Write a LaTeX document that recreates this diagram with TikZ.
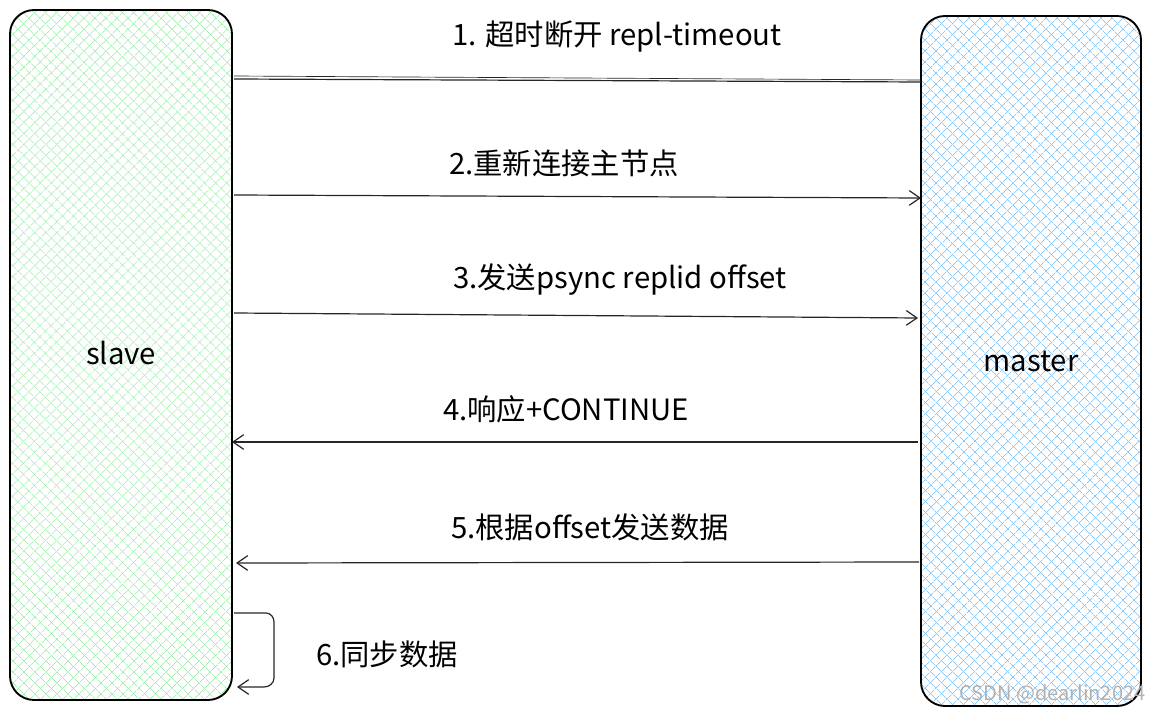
\documentclass[tikz,border=0pt]{standalone}
\usepackage{fontspec}
\setmainfont{Noto Sans CJK SC}
\usetikzlibrary{patterns.meta,arrows.meta}
\definecolor{hgreen}{RGB}{150,235,165}
\definecolor{hblue}{RGB}{140,200,250}
\tikzset{
  lbl/.style={font=\fontsize{22}{26}\selectfont, anchor=center},
  conn/.style={draw=black!85, line width=0.9pt},
  tip/.style={-{Straight Barb[length=8pt,width=11pt]}},
}
\begin{document}
\begin{tikzpicture}[x=0.75pt,y=-0.75pt]
\useasboundingbox (0,0) rectangle (1151,716);
% slave
\path[pattern={Lines[angle=45,distance=6.5pt,line width=0.7pt]},pattern color=hgreen] (10,10) [rounded corners=18] rectangle (232,700);
\path[pattern={Lines[angle=-45,distance=6.5pt,line width=0.7pt]},pattern color=hgreen] (10,10) [rounded corners=18] rectangle (232,700);
\draw[line width=1.4pt, rounded corners=18] (10,10) rectangle (232,700);
\node[lbl] (slave) at (121,353) {slave};
% master
\path[pattern={Lines[angle=45,distance=6.5pt,line width=0.7pt]},pattern color=hblue] (921,16) [rounded corners=18] rectangle (1141,706);
\path[pattern={Lines[angle=-45,distance=6.5pt,line width=0.7pt]},pattern color=hblue] (921,16) [rounded corners=18] rectangle (1141,706);
\draw[line width=1.4pt, rounded corners=18] (921,16) rectangle (1141,706);
\node[lbl] (master) at (1031,361) {master};
% arrows
\coordinate (a1s) at (234,79); \coordinate (a1e) at (921,82);
\draw[conn] (a1s) -- (a1e);
\draw[conn, line width=0.5pt] (234,76) -- (921,80);
\node[lbl] (t1) at (617,37) {1. 超时断开 repl-timeout};
\coordinate (a2s) at (234,195); \coordinate (a2e) at (921,198);
\draw[conn,tip] (a2s) -- (a2e);
\node[lbl] (t2) at (564,163) {2.重新连接主节点};
\coordinate (a3s) at (234,313); \coordinate (a3e) at (918,318);
\draw[conn,tip] (a3s) -- (a3e);
\node[lbl] (t3) at (620,280) {3.发送psync replid offset};
\coordinate (a4s) at (918,442); \coordinate (a4e) at (232,442);
\draw[conn,tip] (a4s) -- (a4e);
\node[lbl] (t4) at (566,409) {4.响应+CONTINUE};
\coordinate (a5s) at (919,562); \coordinate (a5e) at (236,563);
\draw[conn,tip] (a5s) -- (a5e);
\node[lbl] (t5) at (590,527) {5.根据offset发送数据};
\coordinate (a6s) at (234,613); \coordinate (a6e) at (237,687);
\draw[conn,tip] (a6s) -- (266,613) to[out=0,in=90] (274,622) -- (274,678) to[out=-90,in=0] (264,687) -- (a6e);
\node[lbl] (t6) at (387,654) {6.同步数据};
\node[font=\fontsize{15}{18}\selectfont, text=black!30, anchor=east] (wm) at (1150,694) {CSDN @dearlin2024};
\end{tikzpicture}
\end{document}
